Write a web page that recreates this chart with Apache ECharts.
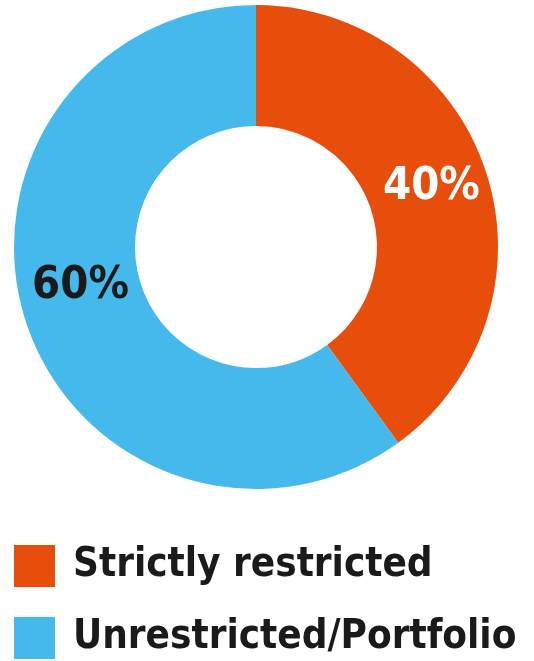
<!DOCTYPE html>
<html><head><meta charset="utf-8">
<script src="https://cdn.jsdelivr.net/npm/echarts@6/dist/echarts.min.js"></script>
<style>html,body{margin:0;padding:0;background:#fff}#c{width:534px;height:661px}</style>
</head><body><div id="c"></div>
<script>
const categories = ["Strictly restricted", "Unrestricted/Portfolio"];
const values = [40, 60];
const colors = ["#E84E0B", "#45B9EC"];
const labelColors = ["#ffffff", "#1a1a1a"];
const labelOffsets = [[0, -3], [0, -18]];
const font = "'Liberation Sans Narrow', 'DejaVu Sans Condensed', 'Roboto', sans-serif";
const chart = echarts.init(document.getElementById('c'));
const legendTops = [545, 617];
chart.setOption({
  animation: false,
  legend: categories.map((n, i) => ({
    orient: 'vertical', left: 14, top: legendTops[i], padding: 0,
    itemWidth: 41, itemHeight: 42, itemGap: 0,
    icon: 'rect',
    textStyle: { fontFamily: font, fontWeight: 'bold', fontSize: 40, color: '#1a1a1a', padding: [2,0,0,13] },
    data: [n]
  })),
  series: [{
    type: 'pie', center: [256, 247], radius: [121, 242],
    startAngle: 90, clockwise: true,
    label: { show: true, position: 'inside', fontFamily: font, fontWeight: 'bold', fontSize: 45,
      formatter: p => p.value + '%' },
    labelLine: { show: false },
    emphasis: { disabled: true },
    data: categories.map((n, i) => ({ name: n, value: values[i],
      itemStyle: { color: colors[i] }, label: { color: labelColors[i], offset: labelOffsets[i] } }))
  }]
});
</script></body></html>
